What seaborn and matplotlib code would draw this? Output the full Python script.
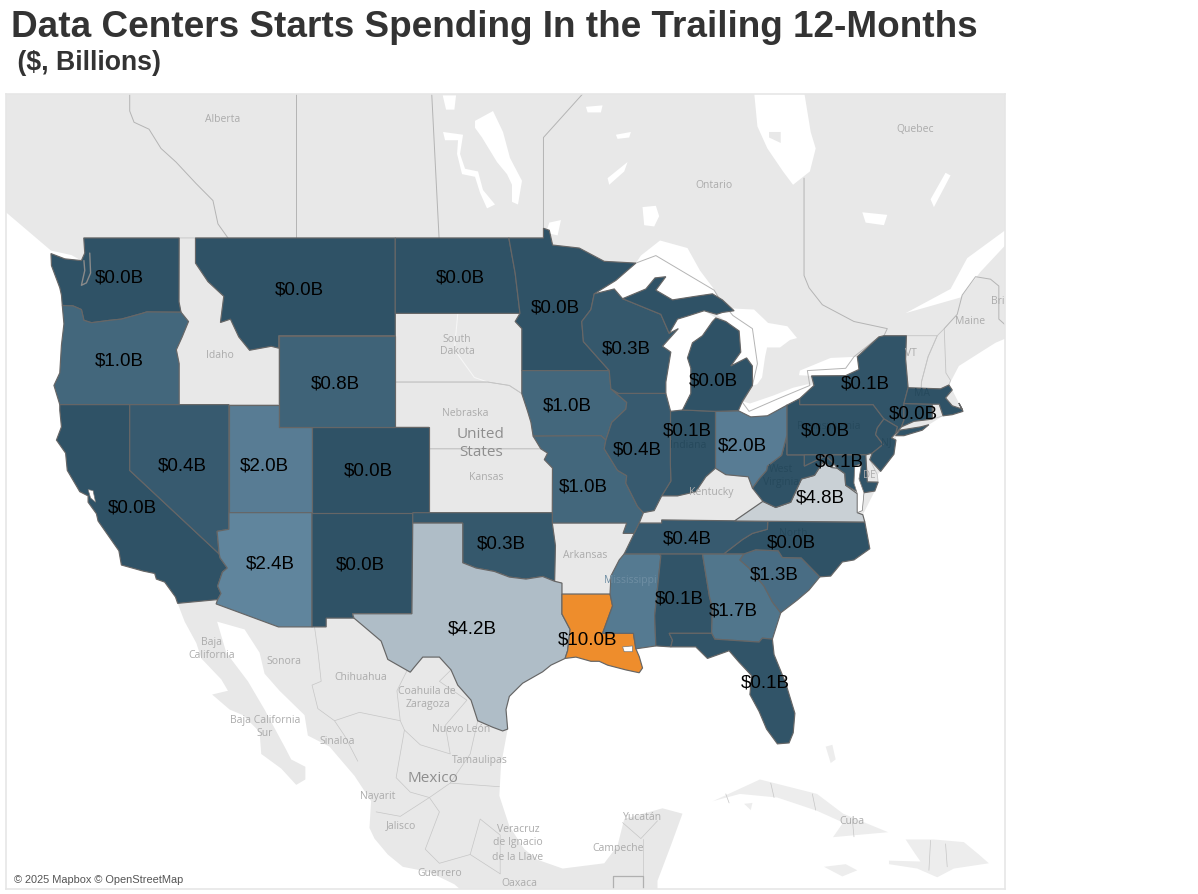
import numpy as np
import matplotlib
matplotlib.use("Agg")
import matplotlib.pyplot as plt
import seaborn as sns

W, H = 1198, 894

# spending per state ($B), nan = no data for that state
state_names = ["WA", "OR", "CA", "NV", "UT", "AZ", "NM", "CO", "WY", "MT", "ND", "MN", "IA", "MO",
               "OK", "TX", "LA", "MS", "AL", "GA", "FL", "SC", "NC", "TN", "VA", "WV", "OH", "IN",
               "IL", "WI", "MI", "MI_UP", "PA", "NY", "LI", "NJ", "CT", "MA", "MD"]
state_values = [0.0, 1.0, 0.0, 0.4, 2.0, 2.4, 0.0, 0.0, 0.8, 0.0, 0.0, 0.0, 1.0, 1.0,
                0.3, 4.2, 10.0, 1.9, 0.1, 1.7, 0.1, 1.3, 0.0, 0.4, 4.8, 0.0, 2.0, 0.1,
                0.4, 0.3, 0.0, 0.0, 0.0, 0.1, 0.1, 0.0, 0.0, 0.0, 0.1]
no_label = ["MS", "WV", "NJ", "CT", "LI", "MI_UP"]

# state outlines, lon/lat
WA = [(-122.76,49),(-117.03,49),(-117.04,46.42),(-116.92,45.99),(-118.98,46),(-119.3,45.93),(-120.5,45.7),(-121.2,45.65),(-122.3,45.55),(-122.75,45.65),(-122.9,46.1),(-123.4,46.25),(-124.05,46.27),(-124.1,46.7),(-124.2,47),(-124.7,47.9),(-124.73,48.38),(-123.9,48.17),(-122.9,48.1),(-122.7,48.4)]
OR = [(-124.2,42),(-117.03,42),(-117.03,43.8),(-117.2,44.4),(-116.85,44.95),(-116.47,45.6),(-116.92,45.99),(-118.98,46),(-119.3,45.93),(-120.5,45.7),(-121.2,45.65),(-122.3,45.55),(-122.75,45.65),(-122.9,46.1),(-123.4,46.25),(-124.05,46.27),(-123.95,45.5),(-124.1,44.6),(-124.2,43.4),(-124.55,42.85)]
CA = [(-124.2,42),(-120,42),(-120,39),(-114.63,35),(-114.57,34.8),(-114.14,34.3),(-114.43,34.1),(-114.72,33.4),(-114.52,33.03),(-114.72,32.72),(-117.12,32.53),(-117.25,32.85),(-117.9,33.6),(-118.4,33.75),(-118.5,34.03),(-119.2,34.15),(-120.5,34.45),(-120.65,35.15),(-121.9,36.6),(-122,36.95),(-122.5,37.5),(-122.5,37.8),(-123,38),(-123.75,39),(-123.85,39.8),(-124.4,40.4),(-124.1,41),(-124.2,41.75)]
NV = [(-120,42),(-114.04,42),(-114.04,36.2),(-114.75,36.1),(-114.63,35),(-120,39)]
UT = [(-114.04,42),(-111.05,42),(-111.05,41),(-109.05,41),(-109.05,37),(-114.04,37)]
AZ = [(-114.04,37),(-109.05,37),(-109.05,31.33),(-111.07,31.33),(-114.81,32.5),(-114.72,32.72),(-114.52,33.03),(-114.72,33.4),(-114.43,34.1),(-114.14,34.3),(-114.57,34.8),(-114.63,35),(-114.75,36.1),(-114.04,36.2)]
NM = [(-109.05,37),(-103,37),(-103.05,32),(-106.62,32),(-106.53,31.78),(-108.2,31.78),(-108.2,31.33),(-109.05,31.33)]
CO = [(-109.05,41),(-102.05,41),(-102.05,37),(-109.05,37)]
WY = [(-111.05,45),(-104.05,45),(-104.05,41),(-111.05,41)]
MT = [(-116.05,49),(-104.05,49),(-104.05,45),(-111.05,45),(-111.05,44.47),(-111.5,44.55),(-112.8,44.38),(-113.45,44.95),(-113.95,45.7),(-114.55,45.56),(-114.35,46.65),(-115.3,47.25),(-116.05,48)]
ID = [(-117.03,49),(-116.05,49),(-116.05,48),(-115.3,47.25),(-114.35,46.65),(-114.55,45.56),(-113.95,45.7),(-113.45,44.95),(-112.8,44.38),(-111.5,44.55),(-111.05,44.47),(-111.05,42),(-117.03,42),(-117.03,43.8),(-117.2,44.4),(-116.85,44.95),(-116.47,45.6),(-116.92,45.99),(-117.04,46.42)]
ND = [(-104.05,49),(-97.23,49),(-96.85,47.6),(-96.56,45.94),(-104.05,45.94)]
SD = [(-104.05,45.94),(-96.56,45.94),(-96.85,45.6),(-96.45,45.3),(-96.45,43.5),(-96.45,42.49),(-97.2,42.85),(-98.5,43),(-104.05,43)]
NE = [(-104.05,43),(-98.5,43),(-97.2,42.85),(-96.45,42.49),(-96.1,41.7),(-95.9,41.2),(-95.77,40.58),(-95.31,40),(-102.05,40),(-102.05,41),(-104.05,41)]
KS = [(-102.05,40),(-95.31,40),(-94.9,39.8),(-95.1,39.5),(-94.61,39.11),(-94.62,37),(-102.05,37)]
OK = [(-103,37),(-94.62,37),(-94.62,36.5),(-94.43,35.4),(-94.48,33.64),(-95.2,33.88),(-96.2,33.75),(-97.2,33.85),(-98.1,34.13),(-99.2,34.3),(-100,34.56),(-100,36.5),(-103,36.5)]
TX = [(-103,36.5),(-100,36.5),(-100,34.56),(-99.2,34.3),(-98.1,34.13),(-97.2,33.85),(-96.2,33.75),(-95.2,33.88),(-94.48,33.64),(-94.04,33.55),(-94.04,33),(-94.04,31.99),(-93.55,31.2),(-93.7,30.1),(-93.85,29.7),(-94.7,29.35),(-95.2,29),(-96.4,28.4),(-97.2,27.7),(-97.4,27),(-97.3,25.95),(-97.6,25.85),(-98.2,26.05),(-99.1,26.4),(-99.5,27.5),(-100.3,28.3),(-100.7,29.1),(-101.4,29.77),(-102.4,29.77),(-102.9,29.25),(-103.15,28.98),(-104.5,29.65),(-104.9,30.6),(-106,31.4),(-106.53,31.78),(-106.62,32),(-103.05,32)]
MN = [(-97.23,49),(-95.15,49),(-95.15,49.38),(-94.8,49.3),(-94.6,48.72),(-93,48.6),(-91.5,48.07),(-89.6,48),(-90.8,47.3),(-92.1,46.75),(-92.3,46.1),(-92.85,45.6),(-92.75,44.75),(-91.2,43.5),(-96.45,43.5),(-96.45,45.3),(-96.85,45.6),(-96.56,45.94),(-96.85,47.6)]
IA = [(-96.45,43.5),(-91.2,43.5),(-91.1,42.7),(-90.15,42.1),(-90.2,41.8),(-91.05,41.2),(-91.4,40.4),(-91.7,40.6),(-95.77,40.58),(-95.9,41.2),(-96.1,41.7),(-96.45,42.49)]
MO = [(-95.77,40.58),(-91.7,40.6),(-91.4,40.4),(-91.5,40),(-90.7,39),(-90.15,38.75),(-90.2,38.4),(-89.5,37.3),(-89.15,37),(-89.4,36.5),(-89.7,36),(-90.37,36),(-90.15,36.5),(-94.62,36.5),(-94.62,37),(-94.61,39.11),(-95.1,39.5),(-94.9,39.8),(-95.31,40)]
AR = [(-94.62,36.5),(-90.15,36.5),(-90.37,36),(-89.7,36),(-90.1,35.1),(-90.6,34.7),(-91.1,33.9),(-91.15,33),(-94.04,33),(-94.04,33.55),(-94.48,33.64),(-94.43,35.4)]
LA = [(-94.04,33),(-91.15,33),(-91,32.4),(-91.6,31),(-89.75,31),(-89.6,30.2),(-89.4,29.8),(-89.2,29.2),(-89.4,28.95),(-90.2,29.1),(-91.3,29.35),(-91.8,29.55),(-92.3,29.55),(-93.2,29.77),(-93.85,29.7),(-93.7,30.1),(-93.55,31.2),(-94.04,31.99)]
MS = [(-91.15,33),(-91.1,33.9),(-90.6,34.7),(-90.3,35),(-88.2,35),(-88.1,34.9),(-88.47,31.9),(-88.4,30.35),(-89.6,30.2),(-89.75,31),(-91.6,31),(-91,32.4)]
AL = [(-88.2,35),(-85.6,35),(-85.18,32.87),(-85,32.3),(-85.05,31),(-87.6,31),(-87.4,30.65),(-87.5,30.3),(-88.4,30.35),(-88.47,31.9),(-88.1,34.9)]
GA = [(-85.6,35),(-83.1,35),(-83.35,34.7),(-82.8,34.3),(-81.9,33.4),(-81.4,32.6),(-80.9,32.05),(-81.4,30.7),(-82,30.75),(-82.2,30.55),(-84.86,30.7),(-85.05,31),(-85,32.3),(-85.18,32.87)]
FL = [(-87.6,31),(-85.05,31),(-84.86,30.7),(-82.2,30.55),(-82,30.75),(-81.4,30.7),(-81.3,29.9),(-80.6,28.4),(-80.05,26.8),(-80.15,25.75),(-80.4,25.2),(-81.1,25.15),(-81.75,25.95),(-82.2,26.9),(-82.75,27.8),(-82.65,28.8),(-83.4,29.5),(-84,30.1),(-85.3,29.7),(-86,30.3),(-87.5,30.3),(-87.4,30.65)]
SC = [(-83.1,35),(-82.4,35.2),(-81.05,35.15),(-80.8,34.82),(-79.67,34.8),(-78.55,33.86),(-79.2,33.2),(-79.9,32.7),(-80.9,32.05),(-81.4,32.6),(-81.9,33.4),(-82.8,34.3),(-83.35,34.7)]
NC = [(-84.32,35),(-83.1,35),(-82.4,35.2),(-81.05,35.15),(-80.8,34.82),(-79.67,34.8),(-78.55,33.86),(-77.9,33.9),(-77.2,34.6),(-76.5,34.7),(-75.55,35.25),(-75.85,36.55),(-81.68,36.59),(-81.7,36.2),(-82.6,36),(-83.2,35.7)]
TN = [(-90.3,35),(-89.7,36),(-89.4,36.5),(-88.05,36.5),(-88.05,36.65),(-81.68,36.59),(-81.7,36.2),(-82.6,36),(-83.2,35.7),(-84.32,35),(-85.6,35),(-88.2,35)]
KY = [(-89.4,36.5),(-88.05,36.5),(-88.05,36.65),(-83.68,36.6),(-81.97,37.54),(-82.6,38.17),(-82.85,38.7),(-84.2,38.8),(-84.82,39.1),(-85.4,38.7),(-86,38),(-87.1,37.8),(-88.05,37.8),(-88.5,37.1),(-89.15,37)]
VA = [(-83.68,36.6),(-75.85,36.55),(-75.97,36.9),(-76.3,37),(-76.3,37.9),(-77,38.3),(-77.05,38.85),(-77.5,39.1),(-77.83,39.13),(-78.35,39.4),(-78.87,38.77),(-79.65,38.6),(-80.3,37.5),(-81.2,37.25),(-81.97,37.54)]
WV = [(-81.97,37.54),(-81.2,37.25),(-80.3,37.5),(-79.65,38.6),(-78.87,38.77),(-78.35,39.4),(-77.83,39.13),(-77.72,39.32),(-78.2,39.68),(-79.48,39.2),(-79.48,39.72),(-80.52,39.72),(-80.52,40.64),(-80.85,39.7),(-81.7,39.2),(-81.75,39),(-82.2,38.6),(-82.6,38.17)]
OH = [(-84.82,41.7),(-83.45,41.73),(-82.7,41.45),(-81.7,41.5),(-80.52,41.98),(-80.52,40.64),(-80.85,39.7),(-81.7,39.2),(-81.75,39),(-82.2,38.6),(-82.6,38.17),(-82.85,38.7),(-84.2,38.8),(-84.82,39.1)]
IN = [(-87.52,41.7),(-86.8,41.76),(-84.82,41.7),(-84.82,39.1),(-85.4,38.7),(-86,38),(-87.1,37.8),(-88.05,37.8),(-87.5,38.5),(-87.53,39.35)]
IL = [(-90.65,42.5),(-87.8,42.5),(-87.55,41.8),(-87.52,41.7),(-87.53,39.35),(-87.5,38.5),(-88.05,37.8),(-88.5,37.1),(-89.15,37),(-89.5,37.3),(-90.2,38.4),(-90.15,38.75),(-90.7,39),(-91.5,40),(-91.4,40.4),(-91.05,41.2),(-90.2,41.8),(-90.15,42.1),(-91.1,42.7)]
WI = [(-92.1,46.75),(-90.9,46.95),(-90.4,46.55),(-88.1,45.9),(-87.6,45.1),(-87.05,45.3),(-88,44.55),(-87.5,44.3),(-87.8,43),(-87.8,42.5),(-90.65,42.5),(-91.1,42.7),(-91.2,43.5),(-92.75,44.75),(-92.85,45.6),(-92.3,46.1)]
MI = [(-84.8,45.75),(-84.2,45.6),(-83.4,45.2),(-83.3,44.3),(-83.9,43.7),(-82.95,44.05),(-82.6,43.7),(-82.6,42.85),(-83.2,42.15),(-83.45,41.73),(-84.82,41.7),(-86.8,41.76),(-86.3,42.5),(-86.3,43.6),(-86.5,44.05),(-86.2,44.7),(-85.6,45),(-85,45.6)]
MI_UP = [(-90.4,46.55),(-89,46.95),(-88.45,47.4),(-87.8,47.45),(-88.4,46.9),(-87.4,46.5),(-86,46.65),(-85,46.75),(-84.4,46.5),(-83.7,46.05),(-84.4,45.98),(-84.75,45.9),(-85.5,46.05),(-86.4,45.85),(-87.1,45.7),(-87.6,45.1),(-88.1,45.9)]
PA = [(-80.52,41.98),(-79.76,42.27),(-79.76,42),(-75.35,42),(-74.7,41.36),(-75.1,40.95),(-75.2,40.65),(-74.75,40.2),(-75.4,39.8),(-75.79,39.72),(-80.52,39.72)]
NY = [(-79.76,42.27),(-78.9,42.85),(-79.05,43.27),(-77,43.28),(-76.2,43.55),(-76.3,44.1),(-75,44.95),(-74.7,45),(-73.35,45),(-73.4,44),(-73.25,42.75),(-73.5,42.05),(-73.5,41.3),(-73.65,41),(-74,40.7),(-73.9,41),(-74.7,41.36),(-75.35,42),(-79.76,42)]
LI = [(-74,40.6),(-73.75,40.85),(-72.5,41),(-72,41.1),(-72.4,40.85),(-73.5,40.6)]
NJ = [(-74.7,41.36),(-73.9,41),(-74,40.7),(-74.25,40.5),(-73.98,40.4),(-74.1,39.75),(-74.9,38.95),(-75.55,39.5),(-75.4,39.8),(-74.75,40.2),(-75.2,40.65),(-75.1,40.95)]
CT = [(-73.5,42.05),(-71.8,42.02),(-71.8,41.35),(-72.9,41.25),(-73.65,41),(-73.5,41.3)]
MA = [(-73.5,42.05),(-73.25,42.75),(-71.3,42.7),(-70.8,42.87),(-70.6,42.65),(-71,42.3),(-70.6,41.95),(-70,41.8),(-70.2,42.07),(-69.95,41.7),(-70.6,41.55),(-71.15,41.5),(-71.38,42.02),(-71.8,42.02)]
RI = [(-71.8,42.02),(-71.38,42.02),(-71.15,41.5),(-71.8,41.35)]
MD = [(-79.48,39.72),(-75.79,39.72),(-75.7,38.46),(-75.05,38.45),(-75.25,38.03),(-75.9,37.95),(-76.2,38.6),(-76.05,39.3),(-76.45,39.2),(-76.5,38.4),(-76.3,38),(-77,38.3),(-77.05,38.85),(-77.5,39.1),(-77.72,39.32),(-78.2,39.68),(-79.48,39.2)]
DE = [(-75.79,39.72),(-75.4,39.8),(-75.55,39.5),(-75.1,38.8),(-75.05,38.45),(-75.7,38.46)]
VT = [(-73.35,45),(-71.5,45),(-72.05,44.1),(-72.45,43),(-72.46,42.73),(-73.25,42.75),(-73.4,44)]
NH = [(-71.5,45),(-71.08,45.3),(-70.98,43.4),(-70.7,43.07),(-70.8,42.87),(-71.3,42.7),(-72.46,42.73),(-72.45,43),(-72.05,44.1)]

outlines = dict(WA=WA, OR=OR, CA=CA, NV=NV, UT=UT, AZ=AZ, NM=NM, CO=CO, WY=WY, MT=MT, ND=ND, MN=MN, IA=IA, MO=MO,
                OK=OK, TX=TX, LA=LA, MS=MS, AL=AL, GA=GA, FL=FL, SC=SC, NC=NC, TN=TN, VA=VA, WV=WV, OH=OH, IN=IN,
                IL=IL, WI=WI, MI=MI, MI_UP=MI_UP, PA=PA, NY=NY, LI=LI, NJ=NJ, CT=CT, MA=MA, MD=MD)
no_data_states = [ID, SD, NE, KS, AR, KY, RI, DE, VT, NH]

# basemap land, lon/lat
land = [(-128,54.8),(-128,50.4),(-127.43,50),(-125.8,49.1),(-124.73,48.5),(-123.5,48.32),(-122.9,48.1),(-123.9,48.17),(-124.73,48.38),(-124.7,47.9),(-124.2,47),(-124.1,46.7),(-124.05,46.27),(-123.95,45.5),(-124.1,44.6),(-124.2,43.4),(-124.55,42.85),(-124.2,42),(-124.2,41.75),(-124.1,41),(-124.4,40.4),(-123.85,39.8),(-123.75,39),(-123,38),(-122.5,37.8),(-122.5,37.5),(-122,36.95),(-121.9,36.6),(-120.65,35.15),(-120.5,34.45),(-119.2,34.15),(-118.5,34.03),(-118.4,33.75),(-117.9,33.6),(-117.25,32.85),(-117.12,32.53),
        (-116.7,31.6),(-116,30.5),(-115.7,29.7),(-114.5,28.6),(-114.1,28),(-115.05,27.8),(-114,27),(-113.2,26.7),(-112.2,25.8),(-112.1,24.6),(-110.9,23.8),(-110,22.9),(-109.45,23.2),(-109.45,23.9),(-110.3,24.3),(-110.7,25),(-111.3,26),(-111.9,27),(-112.9,28.5),(-114.2,30),(-114.75,31.6),(-113.1,31.2),(-112.2,30),(-111.9,28.9),(-111,28),(-109.5,26.7),(-109.3,25.6),(-108,25),(-106.5,23.4),(-105.5,22),(-105.6,20.5),(-105.3,19.9),(-104.5,19),(-103.6,18.3),(-102,18),(-100.5,17.3),(-99.9,16.8),(-99.9,16.5),(-88.3,16.5),(-88.3,17.5),(-87.5,19.5),(-86.8,21.3),(-88,21.6),(-90.3,21),(-90.7,19.5),(-91.5,18.5),(-94,18.2),(-95.5,18.7),(-96.3,19.3),(-97.2,20.6),(-97.8,22.3),(-97.7,24),(-97.3,25.95),(-97.4,27),(-97.2,27.7),(-96.4,28.4),(-95.2,29),(-94.7,29.35),(-93.85,29.7),(-93.2,29.77),(-92.3,29.55),(-91.8,29.55),(-91.3,29.35),(-90.2,29.1),(-89.4,28.95),(-89.2,29.2),(-89.4,29.8),(-89.6,30.2),(-88.4,30.35),(-87.5,30.3),(-86,30.3),(-85.3,29.7),(-84,30.1),(-83.4,29.5),(-82.65,28.8),(-82.75,27.8),(-82.2,26.9),(-81.75,25.95),(-81.1,25.15),(-80.4,25.2),(-80.15,25.75),(-80.05,26.8),(-80.6,28.4),(-81.3,29.9),(-81.4,30.7),(-80.9,32.05),(-79.9,32.7),(-79.2,33.2),(-78.55,33.86),(-77.9,33.9),(-77.2,34.6),(-76.5,34.7),(-75.55,35.25),(-75.85,36.55),(-75.97,36.9),(-75.25,38.03),(-75.05,38.45),(-75.1,38.8),(-74.9,38.95),(-74.1,39.75),(-73.98,40.4),(-74,40.6),(-73.5,40.6),(-72,41.1),(-71.15,41.5),(-70.6,41.55),(-69.95,41.7),(-70.2,42.07),(-70.6,42.65),(-70.8,42.87),(-70.2,43.7),(-69,44.25),(-68,44.7),(-67,45),(-67,54.8)]
islands = [
    [(-84.97,22),(-82.15,23.2),(-78.72,22.4),(-77.15,21.3),(-74.45,20.26),(-77.76,19.98),(-77.15,20.8),(-78.72,21.46),(-81.1,22.2),(-83.35,22.4)],
    [(-74.4,18.45),(-72.7,18.2),(-71.5,17.7),(-70.5,18.2),(-68.4,18.5),(-69,19),(-69.9,19.7),(-71.7,19.85),(-73.4,19.85),(-72.8,19),(-72.5,18.6),(-74.4,18.65)],
    [(-78.3,18.3),(-77,18.45),(-76.3,18.1),(-77.2,17.75)],
    [(-78.2,25),(-77.9,24.1),(-77.6,24.3),(-77.8,25.1)],
    [(-83.1,21.85),(-82.6,21.9),(-82.7,21.5)],
]
lakes = [
    [(-92.1,46.75),(-90.9,46.95),(-90.4,46.55),(-89,46.95),(-88.45,47.4),(-87.8,47.45),(-88.4,46.9),(-87.4,46.5),(-86,46.65),(-85,46.75),(-84.6,46.5),(-84.97,47),(-85.75,47.7),(-86.5,48.6),(-88.15,48.9),(-89.3,48.3),(-89.6,48),(-90.8,47.3)],
    [(-87.8,42.5),(-87.55,41.8),(-87.3,41.62),(-86.8,41.76),(-86.3,42.5),(-86.3,43.6),(-86.5,44.05),(-86.2,44.7),(-85.6,45),(-85,45.6),(-84.8,45.75),(-85.5,46.05),(-86.4,45.85),(-87.1,45.7),(-87.6,45.1),(-87.05,45.3),(-88,44.55),(-87.5,44.3),(-87.8,43)],
    [(-84.75,45.9),(-84.2,45.6),(-83.4,45.2),(-83.3,44.3),(-83.9,43.7),(-82.95,44.05),(-82.6,43.7),(-82.6,42.85),(-82.32,42.9),(-82.02,43.2),(-81.84,44.1),(-81.72,44.5),(-80.94,44.5),(-80.34,44.82),(-79.92,44.9),(-80.5,45.4),(-81.66,45.54),(-82.5,46.1),(-84,46.15)],
    [(-83.45,41.73),(-82.7,41.45),(-81.7,41.5),(-80.52,41.98),(-79.76,42.27),(-78.9,42.85),(-79.3,42.9),(-80.16,42.75),(-81.36,42.4),(-82.75,42.05),(-83.2,42.15)],
    [(-79.05,43.27),(-77,43.28),(-76.2,43.55),(-76.3,44.1),(-77.9,44.05),(-79.75,43.5),(-79.8,43.3)],
    [(-82.56,54.8),(-82.3,53.2),(-81.7,52.4),(-80.76,51.55),(-80.16,51.05),(-79.15,51.55),(-78.8,52.4),(-79.1,53),(-79.6,54.8)],
    [(-67,49.5),(-69.7,48.2),(-70.7,46.95),(-73.4,45.95),(-70.1,46.6),(-68.9,47.65),(-67,49)],
    [(-99.26,53.4),(-98.18,53.75),(-97.58,53),(-97.16,52.05),(-96.44,51.2),(-96.68,50.3),(-97.04,50.4),(-97.04,51.05),(-97.34,51.45),(-97.94,51.9),(-98.84,52.8),(-99.26,53.15)],
    [(-101.18,53),(-99.98,52.9),(-100.16,52.2),(-99.86,51.65),(-99.08,51.55),(-98.78,50.85),(-98.06,50.3),(-98.54,50.15),(-98.96,50.75),(-99.26,51.35),(-100.04,51.45),(-100.34,52.2),(-100.28,52.7),(-101.06,52.7)],
    [(-101.2,54.3),(-100.4,54.3),(-100.5,53.8),(-101,53.8)],
    [(-89.2,50.2),(-88.4,50.25),(-88.2,49.85),(-88.5,49.45),(-89.1,49.5)],
    [(-94.8,49.6),(-94.1,49.7),(-94.3,49.1),(-95,49.2)],
    [(-92.6,53.9),(-91.6,53.95),(-91.7,53.7),(-92.5,53.7)],
    [(-90.8,52.9),(-89.9,53),(-90,52.8),(-90.7,52.75)],
    [(-91.3,51.3),(-90.1,51.9),(-90.3,51.55),(-91.2,51.05)],
    [(-76,50),(-74.5,49.9),(-74.7,49.5),(-75.8,49.6)],
    [(-71.9,50.5),(-71,51.5),(-70.7,51.4),(-71.7,50.2)],
]
# water that sits over the state fills
bays = [
    [(-122.5,38.1),(-122.2,38.05),(-122.05,37.5),(-122.35,37.7)],
    [(-90.4,30.3),(-89.8,30.35),(-89.8,30.05),(-90.3,30.05)],
    [(-76.45,39.2),(-76.05,39.3),(-76.2,38.6),(-75.9,37.95),(-76,37.1),(-76.3,37),(-76.3,37.9),(-76.5,38.4)],
]
puget = [(-122.4,48.4),(-122.35,47.6),(-122.6,47.2),(-122.9,47.1),(-122.7,47.7),(-122.75,48.1)]
akimiski = [(-81.6,53),(-80.9,53),(-80.9,52.6),(-81.6,52.8)]

# faint admin borders of the basemap
canada_lines = [
    [(-110,49),(-110,54.8)],
    [(-101.42,49),(-101.9,54.8)],
    [(-114.1,49),(-114.7,49.55),(-115,50.45),(-116.02,51.1),(-117.22,51.9),(-118.12,52.4),(-118.84,53.1),(-119.74,53.35),(-120,53.75),(-120,54.8)],
    [(-95.15,49.38),(-95.15,52.8),(-92.8,54.35)],
    [(-79.5,51.3),(-79.5,47.5),(-79.2,47),(-78.4,46.3),(-76.5,45.6),(-74.5,45.3),(-74.7,45)],
    [(-71.08,45.3),(-70.3,45.9),(-70,46.7),(-69.2,47.45),(-68.3,47.35),(-67.8,47.07),(-67.8,45.7),(-67,45.2)],
    [(-89.6,48),(-88.4,48.3),(-84.9,46.9),(-84.5,46.45),(-83.77,45.85),(-82.6,45.3),(-82.3,43.8),(-82.6,42.85),(-83.2,42.1),(-82.8,41.7),(-81.1,42.25),(-79.15,42.85),(-79.3,43.5),(-77,43.6),(-76.5,44.1),(-75,44.95)],
]
mexico_lines = [
    [(-108.9,31.33),(-108.7,30.1),(-108.5,28.5),(-109.05,28.3),(-108.7,27.05),(-107.7,26.4),(-107.1,25.6),(-106.3,24.2)],
    [(-103.35,29.05),(-103.95,28),(-103.75,26.4),(-106.2,26.85),(-107.7,26.4)],
    [(-100.7,29.1),(-101.4,28.5),(-99.75,27.5),(-101.05,26.15),(-100.75,24.6),(-102.55,25.1),(-103.5,25.9),(-103.75,26.4)],
    [(-103.5,25.9),(-104,23.3),(-103.15,22.5),(-102,22.2),(-101.4,21.4),(-102.25,19.3),(-101.4,18.5),(-99.55,19),(-97.75,17.9)],
    [(-105.2,21.4),(-103.75,21.15),(-102,22.2),(-100.75,23),(-99.55,24.6),(-99.1,26.4)],
    [(-100.75,23),(-97.8,22.8)],
    [(-99.55,19),(-98.95,21),(-97.75,20.1),(-97.75,17.9)],
    [(-90.4,20.8),(-89.3,19.9),(-88.3,20.9)],
    [(-89.15,17.8),(-89.15,19.9)],
    [(-84.2,22.4),(-84,21.9)],[(-81.5,23),(-81.3,22.2)],[(-79,22.4),(-78.8,21.5)],[(-76.6,21),(-76.5,20)],
    [(-72,18.1),(-71.9,19.8)],[(-70.9,18.3),(-71,19.6)],
]
guatemala_line = [(-91,17.03),(-91,17.8),(-89.15,17.8),(-89.15,17.03)]
pale_river = [(-100.3,45.9),(-100.5,44.4),(-99.3,43.2),(-98.5,43)]

# value labels, figure pixels
label_xy = dict(WA=(119,278), MT=(299,290), ND=(460,278), MN=(555,308), WI=(626,349), MI=(713,381),
                NY=(865,384), MA=(913,414), OR=(119,361), WY=(335,384), IA=(567,406), PA=(825,431),
                OH=(742,446), IN=(687,431), IL=(637,450), MO=(583,487), NV=(182,466), UT=(264,466),
                CO=(368,471), CA=(132,508), AZ=(270,564), NM=(360,565), OK=(501,544), TX=(472,629),
                LA=(588,640), AL=(679,599), GA=(733,611), SC=(774,575), NC=(791,543), TN=(687,539),
                FL=(765,683), MD=(839,462), VA=(820,498))

# basemap place names (text, x, y, size)
place_names = [("Alberta",223,119,7.5),("Quebec",915,130,7.5),("Ontario",714,186,7.5),("Idaho",220,355,7.5),
               ("South",457,339,7.5),("Dakota",457,352,7.5),("Nebraska",465,413,7.5),("Kansas",486,478,7.5),
               ("Arkansas",585,556,7.5),("Kentucky",711,493,7.5),("VT",911,353,7.5),("Maine",970,322,7.5),
               ("Bri",998,302,7.5),("DE",869,475,7),("Baja",212,642,7.5),("California",212,655,7.5),
               ("Sonora",284,661,7.5),("Chihuahua",361,677,7.5),("Coahuila de",427,692,7.5),("Zaragoza",428,705,7.5),
               ("Baja California",265,720,7.5),("Sur",265,733,7.5),("Sinaloa",337,742,7.5),("Nuevo León",461,730,7.5),
               ("Tamaulipas",480,760,7.5),("Nayarit",378,796,7.5),("Jalisco",401,826,7.5),("Guerrero",440,873,7.5),
               ("Oaxaca",519,884,7.5),("Veracruz",518,830,7.5),("de Ignacio",518,843,7.5),("de la Llave",518,857,7.5),
               ("Yucatán",643,817,7.5),("Campeche",618,849,7.5),("Cuba",852,821,7.5)]
big_names = [("United",481,434,11),("States",481,453,11),("Mexico",433,779,11)]
under_names = [("West",781,469),("Virginia",781,482),("MA",922,393),("NJ",886,443),("Indiana",688,446),
               ("Pennsylvania",829,427),("North",793,533),("Mississippi",630,580)]

title_text = "Data Centers Starts Spending In the Trailing 12-Months"
subtitle_text = " ($, Billions)"
credit_text = "© 2025 Mapbox © OpenStreetMap"


def merc(lat):
    lat = np.clip(lat, -85, 85)
    return np.log(np.tan(np.pi / 4 + np.radians(lat) / 2))


def inv_merc(y):
    return np.degrees(2 * np.arctan(np.exp(y)) - np.pi / 2)


def fx(x):
    return x / W


def fy(y):
    return 1 - y / H


def xs(pts):
    return [p[0] for p in pts]


def ys(pts):
    return [p[1] for p in pts]


sns.set_theme(style="white")
plt.rcParams["font.family"] = ["Liberation Sans", "DejaVu Sans"]

cmap = sns.blend_palette(["#2f5266", "#62879f", "#d3d7da", "#e6b27f", "#ee8d2c"], as_cmap=True)

fig = plt.figure(figsize=(W / 100, H / 100), dpi=100, facecolor="white")
ax = fig.add_axes([fx(6), 1 - 889 / H, 999 / W, 795 / H])
ax.set_yscale("function", functions=(merc, inv_merc))
ax.set_xlim(-127.43, -67.43)
ax.set_ylim(17.03, 54.35)
ax.set_xticks([])
ax.set_yticks([])
ax.minorticks_off()

land_col = "#e8e8e8"
ax.fill(xs(land), ys(land), color=land_col, lw=0, zorder=1)
for pts in islands:
    ax.fill(xs(pts), ys(pts), color="#ededed", lw=0, zorder=1)
for pts in lakes:
    ax.fill(xs(pts), ys(pts), color="white", lw=0, zorder=1.5)
ax.fill(xs(akimiski), ys(akimiski), color=land_col, lw=0, zorder=1.6)

for pts in canada_lines:
    ax.plot(xs(pts), ys(pts), color="#b4b4b4", lw=0.7, zorder=2)
for pts in mexico_lines:
    ax.plot(xs(pts), ys(pts), color="#c6c6c6", lw=0.5, zorder=2)
ax.plot(xs(guatemala_line), ys(guatemala_line), color="#b0b0b0", lw=0.9, zorder=2)
ax.plot(xs(pale_river), ys(pale_river), color="#f6f6f6", lw=0.8, zorder=2)

for pts in no_data_states:
    ax.fill(xs(pts), ys(pts), facecolor="none", edgecolor="#c4c4c4", lw=0.6, zorder=2.5)

for name, val in zip(state_names, state_values):
    pts = outlines[name]
    ax.fill(xs(pts), ys(pts), facecolor=cmap(val / 10.0), edgecolor="#666666", lw=0.85, zorder=3)

for pts in bays:
    ax.fill(xs(pts), ys(pts), facecolor="white", edgecolor="#777777", lw=0.5, zorder=3.5)
ax.plot(xs(puget), ys(puget), color="#8a8a8a", lw=1.0, zorder=3.5)

sns.despine(ax=ax, left=False, bottom=False, right=False, top=False)
for spine in ax.spines.values():
    spine.set_color("#e6e6e6")
    spine.set_linewidth(1.2)

# basemap names sit over the fill, very faint on dark states
for txt, x, y, size in place_names:
    fig.text(fx(x), fy(y), txt, family="Open Sans", fontsize=size, color="#ababab", ha="center", va="center")
for txt, x, y, size in big_names:
    fig.text(fx(x), fy(y), txt, family="Open Sans", fontsize=size, color="#8e8e8e", ha="center", va="center")
for txt, x, y in under_names:
    col = "#6f8ea3" if txt == "Mississippi" else "#26495c"
    fig.text(fx(x), fy(y), txt, family="Open Sans", fontsize=7.5, color=col, ha="center", va="center")

for name, val in zip(state_names, state_values):
    if name in no_label:
        continue
    x, y = label_xy[name]
    fig.text(fx(x), fy(y), f"${val:.1f}B", fontsize=13.5, color="black", ha="center", va="center")

fig.text(fx(11), fy(27.5), title_text, fontsize=26.6, fontweight="bold", color="#333333", ha="left", va="center")
fig.text(fx(10), fy(63.5), subtitle_text, fontsize=19.2, fontweight="bold", color="#333333", ha="left", va="center")
fig.text(fx(14), fy(880), credit_text, fontsize=7.95, color="#555555", ha="left", va="center",
         bbox=dict(facecolor="white", edgecolor="none", alpha=0.7, pad=1.5))

fig.savefig("out.png", dpi=100)
